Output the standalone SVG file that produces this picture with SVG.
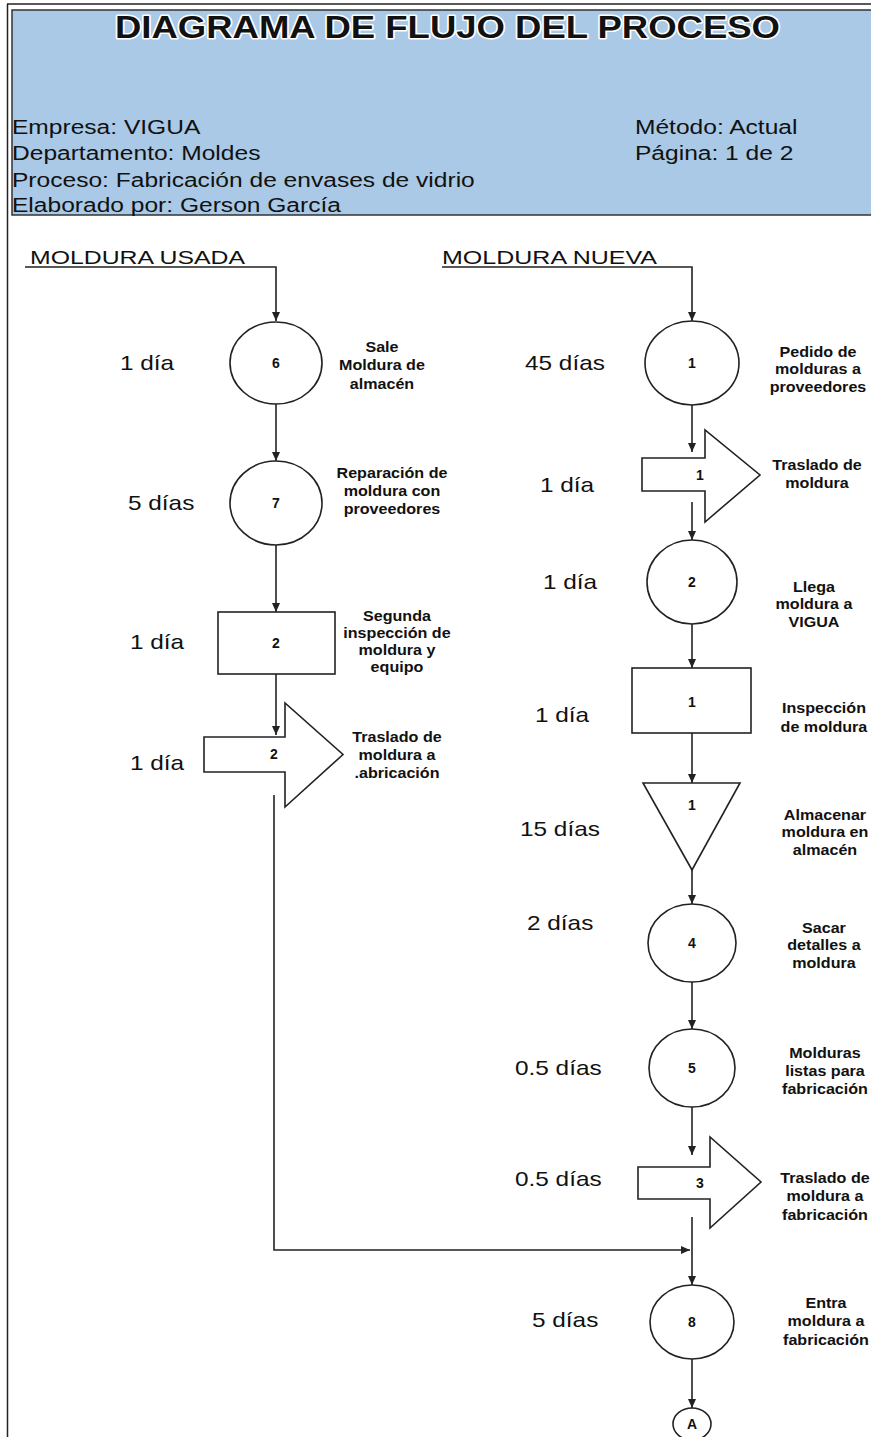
<svg xmlns="http://www.w3.org/2000/svg" width="871" height="1437" viewBox="0 0 871 1437">
<style>
.ln{fill:none;stroke:#222;stroke-width:1.6}
.sh{fill:#fff;stroke:#222;stroke-width:1.6}
.t{font-family:"Liberation Sans",Arial,sans-serif;fill:#111}
.hdr{font-size:21px;transform-box:fill-box;transform-origin:left center;transform:scaleX(1.17)}
.time{font-size:21px;transform-box:fill-box;transform-origin:left center;transform:scaleX(1.16)}
.lbl{font-size:14px;font-weight:bold;text-anchor:middle;transform-box:fill-box;transform-origin:center;transform:scaleX(1.15)}
.num{font-size:14px;font-weight:bold;text-anchor:middle}
.sec{font-size:19px}
</style>
<defs>
<marker id="ah" markerUnits="userSpaceOnUse" markerWidth="10" markerHeight="10" refX="9" refY="5" orient="auto"><path d="M0,1 L9,5 L0,9 z" fill="#222"/></marker>
</defs>

<g id="frame">
<line x1="7" y1="4" x2="871" y2="4" stroke="#222" stroke-width="1.5"/>
<line x1="7.5" y1="4" x2="7.5" y2="1437" stroke="#222" stroke-width="1.5"/>
<rect x="12" y="10" width="870" height="205" fill="#a9c9e6" stroke="#333" stroke-width="1.5"/>
<text class="t" x="115" y="38" font-size="31" font-weight="bold" textLength="665" lengthAdjust="spacingAndGlyphs" stroke="#fff" stroke-width="3" paint-order="stroke" stroke-linejoin="round">DIAGRAMA DE FLUJO DEL PROCESO</text>
<text class="t hdr" x="12" y="134">Empresa: VIGUA</text>
<text class="t hdr" x="12" y="160">Departamento: Moldes</text>
<text class="t hdr" x="12" y="187">Proceso: Fabricación de envases de vidrio</text>
<text class="t hdr" x="12" y="212">Elaborado por: Gerson García</text>
<text class="t hdr" x="635" y="134">Método: Actual</text>
<text class="t hdr" x="635" y="160">Página: 1 de 2</text>
<text class="t sec" x="30" y="264" textLength="215" lengthAdjust="spacingAndGlyphs">MOLDURA USADA</text>
<text class="t sec" x="442" y="264" textLength="215" lengthAdjust="spacingAndGlyphs">MOLDURA NUEVA</text>
</g>

<g id="connectors">
<polyline class="ln" points="25,267 276,267 276,321" marker-end="url(#ah)"/>
<line class="ln" x1="276" y1="404" x2="276" y2="461" marker-end="url(#ah)"/>
<line class="ln" x1="276" y1="545" x2="276" y2="612" marker-end="url(#ah)"/>
<line class="ln" x1="276" y1="674" x2="276" y2="735" marker-end="url(#ah)"/>
<polyline class="ln" points="274,795 274,1250 690,1250" marker-end="url(#ah)"/>
<polyline class="ln" points="442,267 692,267 692,321" marker-end="url(#ah)"/>
<line class="ln" x1="692" y1="405" x2="692" y2="452" marker-end="url(#ah)"/>
<line class="ln" x1="692" y1="502" x2="692" y2="540" marker-end="url(#ah)"/>
<line class="ln" x1="692" y1="624" x2="692" y2="668" marker-end="url(#ah)"/>
<line class="ln" x1="692" y1="733" x2="692" y2="783" marker-end="url(#ah)"/>
<line class="ln" x1="692" y1="870" x2="692" y2="904" marker-end="url(#ah)"/>
<line class="ln" x1="692" y1="982" x2="692" y2="1029" marker-end="url(#ah)"/>
<line class="ln" x1="692" y1="1107" x2="692" y2="1155" marker-end="url(#ah)"/>
<line class="ln" x1="692" y1="1217" x2="692" y2="1285" marker-end="url(#ah)"/>
<line class="ln" x1="692" y1="1359" x2="692" y2="1408" marker-end="url(#ah)"/>
</g>

<g id="n6">
<ellipse class="sh" cx="276" cy="363" rx="46" ry="41"/>
<text class="t num" x="276" y="368">6</text>
<text class="t time" x="120" y="370">1 día</text>
<text class="t lbl" y="352"><tspan x="382">Sale</tspan><tspan x="382" dy="18.5">Moldura de</tspan><tspan x="382" dy="18.5">almacén</tspan></text>
</g>

<g id="n7">
<ellipse class="sh" cx="276" cy="503" rx="46" ry="42"/>
<text class="t num" x="276" y="508">7</text>
<text class="t time" x="128" y="510">5 días</text>
<text class="t lbl" y="478"><tspan x="392">Reparación de</tspan><tspan x="392" dy="18">moldura con</tspan><tspan x="392" dy="18">proveedores</tspan></text>
</g>

<g id="insp2">
<rect class="sh" x="218" y="612" width="117" height="62"/>
<text class="t num" x="276" y="648">2</text>
<text class="t time" x="130" y="649">1 día</text>
<text class="t lbl" y="621"><tspan x="397">Segunda</tspan><tspan x="397" dy="17">inspección de</tspan><tspan x="397" dy="17">moldura y</tspan><tspan x="397" dy="17">equipo</tspan></text>
</g>

<g id="tr2">
<polygon class="sh" points="204,737 285,737 285,703 343,754.5 285,807 285,772 204,772"/>
<text class="t num" x="274" y="759">2</text>
<text class="t time" x="130" y="770">1 día</text>
<text class="t lbl" y="742"><tspan x="397">Traslado de</tspan><tspan x="397" dy="18">moldura a</tspan><tspan x="397" dy="18">.abricación</tspan></text>
</g>

<g id="n1">
<ellipse class="sh" cx="692" cy="363" rx="47" ry="42"/>
<text class="t num" x="692" y="368">1</text>
<text class="t time" x="525" y="370">45 días</text>
<text class="t lbl" y="357"><tspan x="818">Pedido de</tspan><tspan x="818" dy="17.5">molduras a</tspan><tspan x="818" dy="17.5">proveedores</tspan></text>
</g>

<g id="tr1">
<polygon class="sh" points="642,458 705,458 705,430 760,475 705,522 705,491 642,491"/>
<text class="t num" x="700" y="480">1</text>
<text class="t time" x="540" y="492">1 día</text>
<text class="t lbl" y="470"><tspan x="817">Traslado de</tspan><tspan x="817" dy="18">moldura</tspan></text>
</g>

<g id="n2">
<ellipse class="sh" cx="692" cy="582" rx="45" ry="42"/>
<text class="t num" x="692" y="587">2</text>
<text class="t time" x="543" y="589">1 día</text>
<text class="t lbl" y="592"><tspan x="814">Llega</tspan><tspan x="814" dy="17.5">moldura a</tspan><tspan x="814" dy="17.5">VIGUA</tspan></text>
</g>

<g id="insp1">
<rect class="sh" x="632" y="668" width="119" height="65"/>
<text class="t num" x="692" y="707">1</text>
<text class="t time" x="535" y="722">1 día</text>
<text class="t lbl" y="713"><tspan x="824">Inspección</tspan><tspan x="824" dy="19">de moldura</tspan></text>
</g>

<g id="alm1">
<polygon class="sh" points="643,783 740,783 692,870"/>
<text class="t num" x="692" y="810">1</text>
<text class="t time" x="520" y="836">15 días</text>
<text class="t lbl" y="820"><tspan x="825">Almacenar</tspan><tspan x="825" dy="17.5">moldura en</tspan><tspan x="825" dy="17.5">almacén</tspan></text>
</g>

<g id="n4">
<ellipse class="sh" cx="692" cy="943" rx="44" ry="39"/>
<text class="t num" x="692" y="948">4</text>
<text class="t time" x="527" y="930">2 días</text>
<text class="t lbl" y="933"><tspan x="824">Sacar</tspan><tspan x="824" dy="17.5">detalles a</tspan><tspan x="824" dy="17.5">moldura</tspan></text>
</g>

<g id="n5">
<ellipse class="sh" cx="692" cy="1068" rx="43" ry="39"/>
<text class="t num" x="692" y="1073">5</text>
<text class="t time" x="515" y="1075">0.5 días</text>
<text class="t lbl" y="1058"><tspan x="825">Molduras</tspan><tspan x="825" dy="18">listas para</tspan><tspan x="825" dy="18">fabricación</tspan></text>
</g>

<g id="tr3">
<polygon class="sh" points="638,1167 710,1167 710,1137 761,1182 710,1228 710,1199 638,1199"/>
<text class="t num" x="700" y="1188">3</text>
<text class="t time" x="515" y="1186">0.5 días</text>
<text class="t lbl" y="1183"><tspan x="825">Traslado de</tspan><tspan x="825" dy="18.5">moldura a</tspan><tspan x="825" dy="18.5">fabricación</tspan></text>
</g>

<g id="n8">
<ellipse class="sh" cx="692" cy="1322" rx="42" ry="37"/>
<text class="t num" x="692" y="1327">8</text>
<text class="t time" x="532" y="1327">5 días</text>
<text class="t lbl" y="1308"><tspan x="826">Entra</tspan><tspan x="826" dy="18.5">moldura a</tspan><tspan x="826" dy="18.5">fabricación</tspan></text>
</g>

<g id="connA">
<ellipse class="sh" cx="692" cy="1424" rx="19" ry="16"/>
<text class="t num" x="692" y="1429">A</text>
</g>
</svg>
